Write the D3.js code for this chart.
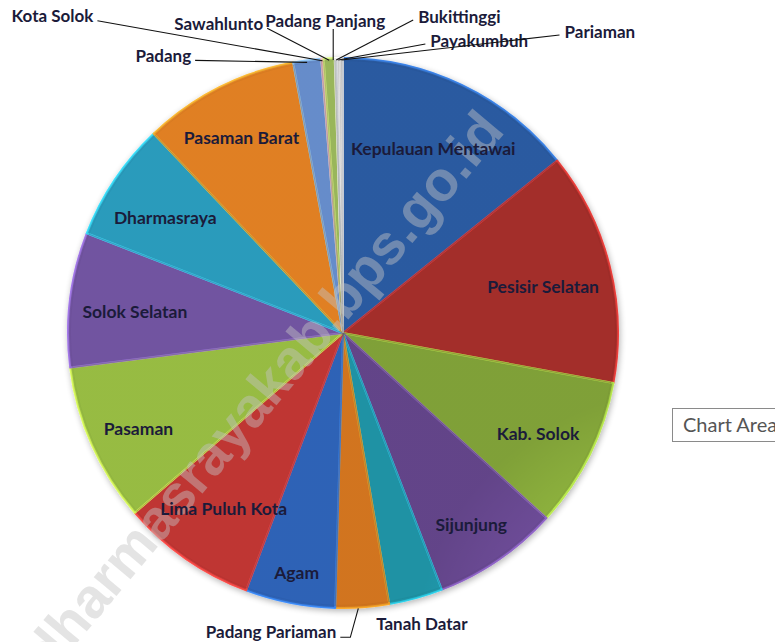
<!DOCTYPE html>
<html>
<head>
<meta charset="utf-8">
<script src="https://cdn.jsdelivr.net/npm/d3@7"></script>
<style>
  html, body { margin: 0; padding: 0; background: #ffffff; }
  svg { display: block; }
</style>
</head>
<body>
<svg id="chart" width="775" height="642"></svg>
<script>
// Luas wilayah kabupaten/kota di Sumatera Barat (km²)
const regions = [
  "Kepulauan Mentawai", "Pesisir Selatan", "Kab. Solok", "Sijunjung", "Tanah Datar",
  "Padang Pariaman", "Agam", "Lima Puluh Kota", "Pasaman", "Solok Selatan",
  "Dharmasraya", "Pasaman Barat", "Padang", "Kota Solok", "Sawahlunto",
  "Padang Panjang", "Bukittinggi", "Payakumbuh", "Pariaman"
];
const areas = [
  6011.35, 5794.95, 3738.00, 3130.80, 1336.00,
  1328.79, 2232.30, 3354.30, 3947.63, 3346.20,
  2961.13, 3887.77, 694.96, 57.64, 273.45,
  23.00, 25.24, 80.43, 73.36
];
const sliceColors = [
  "#2E64B0", "#B3312D", "#8CB03C", "#6C4C96", "#22A0B4",
  "#E68020", "#306CC8", "#D23A38", "#A6CE48", "#7C5CB0",
  "#2EAACE", "#F68C28", "#709ADE", "#E59A98", "#A8C864",
  "#C5C0D4", "#C8DCE4", "#E0E0E0", "#D0D0D0"
];

// Labels drawn outside the pie, placed relative to the slice's rim point
const callouts = {
  "Padang":          { dx: -116, dy: -5,  anchor: "end" },
  "Kota Solok":      { dx: -229, dy: -43, anchor: "end" },
  "Sawahlunto":      { dx: -66,  dy: -35, anchor: "end" },
  "Padang Panjang":  { dx: -10,  dy: -38, anchor: "middle", vertical: true },
  "Bukittinggi":     { dx: 82,   dy: -42, anchor: "start" },
  "Payakumbuh":      { dx: 92,   dy: -18, anchor: "start" },
  "Pariaman":        { dx: 223,  dy: -27, anchor: "start" },
  "Tanah Datar":     { dx: 6,    dy: 25,  anchor: "middle", noLeader: true },
  "Padang Pariaman": { dx: -26,  dy: 24,  anchor: "end", elbow: true }
};

const svg = d3.select("#chart");
const cx = 343, cy = 333, radius = 275;
const labelFont = "Lato, 'Open Sans', sans-serif";
const labelColor = "#1b1b3a";

const data = regions.map((name, i) => ({ name, value: areas[i], color: sliceColors[i] }));
const pie = d3.pie().sort(null).value(d => d.value);
const arcs = pie(data);
const arc = d3.arc().innerRadius(0).outerRadius(radius);

const defs = svg.append("defs");

// rim shading
const rim = defs.append("radialGradient")
  .attr("id", "rimShade")
  .attr("gradientUnits", "userSpaceOnUse")
  .attr("cx", cx).attr("cy", cy).attr("r", radius);
rim.append("stop").attr("offset", "0%").attr("stop-color", "#fff").attr("stop-opacity", 0.05);
rim.append("stop").attr("offset", "75%").attr("stop-color", "#000").attr("stop-opacity", 0);
rim.append("stop").attr("offset", "100%").attr("stop-color", "#000").attr("stop-opacity", 0.09);

const soft = defs.append("filter").attr("id", "softShadow")
  .attr("x", "-10%").attr("y", "-10%").attr("width", "120%").attr("height", "120%");
soft.append("feGaussianBlur").attr("in", "SourceAlpha").attr("stdDeviation", 3);
soft.append("feOffset").attr("dx", 1).attr("dy", 2).attr("result", "blur");
soft.append("feComponentTransfer").append("feFuncA").attr("type", "linear").attr("slope", 0.3);
const merge = soft.append("feMerge");
merge.append("feMergeNode");
merge.append("feMergeNode").attr("in", "SourceGraphic");

const pieG = svg.append("g").attr("transform", `translate(${cx},${cy})`);

const sliceG = pieG.append("g").attr("filter", "url(#softShadow)");
sliceG.selectAll("path.slice")
  .data(arcs)
  .join("path")
  .attr("class", "slice")
  .attr("d", arc)
  .attr("fill", d => d.data.color)
  .attr("stroke", d => d3.color(d.data.color).brighter(0.8))
  .attr("stroke-width", 2)
  .attr("stroke-linejoin", "round");

// thin darker edge just inside each slice for a bevelled look
pieG.append("g").selectAll("path")
  .data(arcs)
  .join("path")
  .attr("d", d3.arc().innerRadius(0).outerRadius(radius - 2.5))
  .attr("fill", "none")
  .attr("stroke", d => d3.color(d.data.color).darker(0.4))
  .attr("stroke-opacity", 0.3)
  .attr("stroke-width", 1);

pieG.append("circle")
  .attr("r", radius)
  .attr("fill", "url(#rimShade)")
  .attr("pointer-events", "none");

// watermark
svg.append("text")
  .attr("transform", "translate(228,463) rotate(-50)")
  .attr("text-anchor", "middle")
  .attr("font-family", "'Liberation Sans', Arial, sans-serif")
  .attr("font-weight", "bold")
  .attr("font-size", 56)
  .attr("fill", "#c4c4c4")
  .attr("fill-opacity", 0.45)
  .text("http://dharmasrayakab.bps.go.id");

// inside labels: each box pushed out along its mid-angle until it nears the rim
const labelG = svg.append("g");
const pad = 12, originDrop = 4, halfBoxH = 14;
arcs.forEach(a => {
  if (callouts[a.data.name]) return;
  const mid = (a.startAngle + a.endAngle) / 2;
  const s = Math.sin(mid), c = Math.cos(mid);
  const t = labelG.append("text")
    .attr("font-family", labelFont)
    .attr("font-weight", 700)
    .attr("font-size", 17.5)
    .attr("fill", labelColor)
    .attr("text-anchor", "middle")
    .attr("dominant-baseline", "central")
    .text(a.data.name);
  const w = t.node().getBBox().width / 2, h = halfBoxH;
  const fits = d => {
    const x = d * s, y = originDrop - d * c;
    let m = 0;
    for (const sx of [-1, 1]) for (const sy of [-1, 1]) {
      m = Math.max(m, Math.hypot(x + sx * w, y + sy * h));
    }
    return m <= radius - pad;
  };
  let lo = 0, hi = radius;
  for (let k = 0; k < 40; k++) {
    const d = (lo + hi) / 2;
    if (fits(d)) lo = d; else hi = d;
  }
  t.attr("x", cx + lo * s).attr("y", cy + originDrop - lo * c);
});

// outside labels with leader lines
const leaderG = svg.append("g");
arcs.forEach(a => {
  const cfg = callouts[a.data.name];
  if (!cfg) return;
  const mid = (a.startAngle + a.endAngle) / 2;
  const ox = cx + radius * Math.sin(mid), oy = cy - radius * Math.cos(mid);
  const tx = ox + cfg.dx, ty = oy + cfg.dy;
  labelG.append("text")
    .attr("x", tx).attr("y", ty)
    .attr("font-family", labelFont)
    .attr("font-weight", 700)
    .attr("font-size", 17)
    .attr("fill", labelColor)
    .attr("text-anchor", cfg.anchor)
    .attr("dominant-baseline", "central")
    .text(a.data.name);
  if (cfg.noLeader) return;
  let pts;
  if (cfg.vertical) {
    pts = [[ox - 2, ty + 9], [ox - 2, oy + 2]];
  } else if (cfg.elbow) {
    pts = [[tx + 4, ty + 6], [tx + 14, ty + 6], [ox - 4, oy + 1]];
  } else if (cfg.anchor === "end") {
    pts = [[tx + 4, ty + 5], [ox, oy + 2]];
  } else {
    pts = [[tx - 5, ty + 4], [ox, oy + 2]];
  }
  leaderG.append("path")
    .attr("d", d3.line()(pts))
    .attr("fill", "none")
    .attr("stroke", "#111")
    .attr("stroke-width", 1.1);
});

// hover tooltip box
const tip = svg.append("g").attr("transform", "translate(672,408)");
tip.append("rect")
  .attr("x", 0.5).attr("y", 0.5)
  .attr("width", 130).attr("height", 33)
  .attr("fill", "#fff")
  .attr("stroke", "#8a8a8a");
tip.append("text")
  .attr("x", 11).attr("y", 24)
  .attr("font-family", labelFont)
  .attr("font-size", 20)
  .attr("fill", "#555")
  .text("Chart Area");
</script>
</body>
</html>
